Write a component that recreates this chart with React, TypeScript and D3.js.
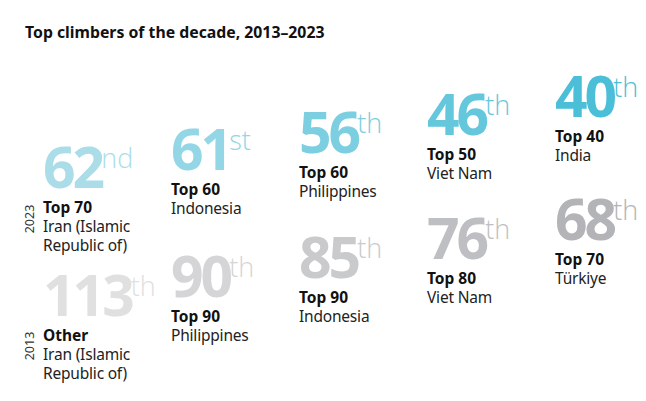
import React from 'react'
import * as d3 from 'd3'

const title = 'Top climbers of the decade, 2013–2023'
const years = ['2023', '2013']

// 2023 ranks (top row)
const ranks2023 = [62, 61, 56, 46, 40]
const groups2023 = ['Top 70', 'Top 60', 'Top 60', 'Top 50', 'Top 40']
const countries2023 = ['Iran (Islamic Republic of)', 'Indonesia', 'Philippines', 'Viet Nam', 'India']

// 2013 ranks (bottom row)
const ranks2013 = [113, 90, 85, 76, 68]
const groups2013 = ['Other', 'Top 90', 'Top 90', 'Top 80', 'Top 70']
const countries2013 = ['Iran (Islamic Republic of)', 'Philippines', 'Indonesia', 'Viet Nam', 'Türkiye']

const W = 646
const H = 401
const FONT = '"Noto Sans", "Open Sans", sans-serif'

function suffix(n: number) {
  const t = n % 100
  if (t >= 11 && t <= 13) return 'th'
  if (n % 10 === 1) return 'st'
  if (n % 10 === 2) return 'nd'
  if (n % 10 === 3) return 'rd'
  return 'th'
}

// split a long name into lines of about 13 characters
function wrap(s: string, max = 13) {
  const lines: string[] = []
  let cur = ''
  for (const w of s.split(' ')) {
    const next = cur ? cur + ' ' + w : w
    if (next.length > max && cur) {
      lines.push(cur)
      cur = w
    } else cur = next
  }
  if (cur) lines.push(cur)
  return lines
}

export default function App() {
  const idx = d3.range(ranks2023.length)
  const x = d3.scaleLinear().domain([0, 4]).range([43, 555])
  const y2023 = d3.scaleLinear().domain([0, 4]).range([188, 117])
  const y2013 = d3.scaleLinear().domain([0, 4]).range([316, 240])
  const blue = d3.scaleLinear<string>().domain([0, 4]).range(['#abdde9', '#4cbfd8'])
  const gray = d3.scaleLinear<string>().domain([0, 4]).range(['#e0e0e1', '#b2b4b7'])

  const rows = [
    { ranks: ranks2023, groups: groups2023, countries: countries2023, y: y2023, color: blue },
    { ranks: ranks2013, groups: groups2013, countries: countries2013, y: y2013, color: gray },
  ]

  return (
    <svg width={W} height={H} style={{ position: 'absolute', left: 0, top: 0, background: '#fff' }} fontFamily={FONT}>
      <text x={25} y={38} fontSize={15.8} fontWeight={700} fill="#111">{title}</text>

      {rows.map((r, ri) => (
        <g key={ri}>
          {idx.map(i => {
            const base = r.y(i)
            const lines = wrap(r.countries[i])
            return (
              <g key={i} transform={`translate(${x(i)},${base})`}>
                <text fontSize={57} fontWeight={700} fill={r.color(i)} letterSpacing={-3}>
                  {r.ranks[i]}
                  <tspan fontFamily='"Open Sans", sans-serif' fontSize={27} fontWeight={300} letterSpacing={0} dx={-1} dy={-20}>
                    {suffix(r.ranks[i])}
                  </tspan>
                </text>
                <text y={25} fontSize={15.5} fontWeight={700} fill="#111">{r.groups[i]}</text>
                {lines.map((l, li) => (
                  <text key={li} y={44 + li * 18.5} fontSize={15.5} fill="#222" letterSpacing={-0.2}>{l}</text>
                ))}
              </g>
            )
          })}
        </g>
      ))}

      {years.map((yr, k) => {
        const cy = k === 0 ? y2023(0) + 31 : y2013(0) + 30
        return (
          <text key={yr} transform={`translate(34,${cy}) rotate(-90)`} textAnchor="middle" fontSize={12.5} fill="#333">
            {yr}
          </text>
        )
      })}
    </svg>
  )
}
